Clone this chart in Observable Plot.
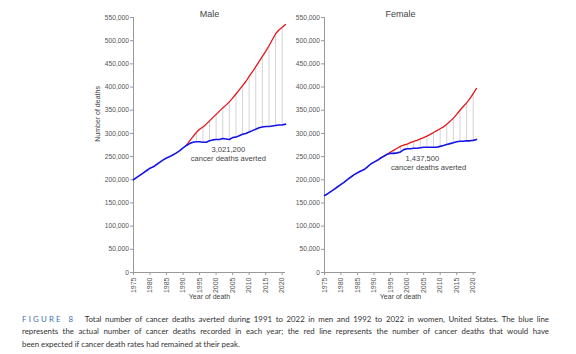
<!DOCTYPE html>
<html>
<head>
<meta charset="utf-8">
<script src="https://cdn.jsdelivr.net/npm/d3@7"></script>
<script src="https://cdn.jsdelivr.net/npm/@observablehq/plot@0.6"></script>
<style>
  html, body { margin: 0; padding: 0; background: #fff; }
  #wrap { position: relative; width: 576px; height: 354px; overflow: hidden; }
  .panel { position: absolute; top: 0; }
  #caption { position: absolute; left: 22px; top: 312.5px; width: 527px;
    font-family: Lato, "Noto Sans", sans-serif; font-size: 7.85px; line-height: 12.6px; color: #333; }
  #caption .j { text-align: justify; text-align-last: justify; white-space: nowrap; }
  #caption .fig { color: #3d6fb5; letter-spacing: 2.2px; margin-right: 6px; }
</style>
</head>
<body>
<div id="wrap">
  <div id="male" class="panel" style="left:0px"></div>
  <div id="female" class="panel" style="left:290px"></div>
  <div id="caption">
    <div class="j"><span class="fig">FIGURE 8</span> Total number of cancer deaths averted during 1991 to 2022 in men and 1992 to 2022 in women, United States. The blue line</div>
    <div class="j">represents the actual number of cancer deaths recorded in each year; the red line represents the number of cancer deaths that would have</div>
    <div>been expected if cancer death rates had remained at their peak.</div>
  </div>
</div>
<script>
// Years of death
const years = d3.range(1975, 2022);

// Male: actual deaths (blue), 1975-2021
const maleActual = [200000, 205000, 210000, 215000, 220000, 225000, 228000, 233000, 238000, 243000,
  247000, 250000, 254000, 258000, 263000, 269000, 274000, 278000, 281000, 282000,
  282000, 281000, 281000, 284000, 286000, 287000, 287000, 289000, 288000, 287000,
  291000, 292000, 295000, 298000, 300000, 303000, 306000, 309000, 312000, 314000,
  315000, 315000, 316000, 317000, 318000, 318000, 320000];
// Male: expected deaths at peak rates (red), 1991-2021
const maleExpectedYears = d3.range(1991, 2022);
const maleExpected = [274000, 284000, 293000, 302000, 309000, 314000, 320000, 327000, 334000, 341000,
  348000, 355000, 361000, 368000, 376000, 385000, 394000, 403000, 412000, 423000,
  433000, 444000, 455000, 466000, 477000, 489000, 502000, 515000, 523000, 529000, 535000];

// Female: actual deaths (blue), 1975-2021
const femaleActual = [166000, 170000, 175000, 180000, 185000, 190000, 195000, 201000, 206000, 211000,
  215000, 219000, 222000, 228000, 234000, 238000, 242000, 247000, 251000, 255000,
  257000, 257000, 258000, 260000, 265000, 267000, 267000, 268000, 268000, 269000,
  270000, 270000, 270000, 270000, 270000, 272000, 274000, 276000, 278000, 280000,
  282000, 283000, 283000, 284000, 284000, 285000, 287000];
// Female: expected deaths at peak rates (red), 1992-2021
const femaleExpectedYears = d3.range(1992, 2022);
const femaleExpected = [247000, 251000, 255000, 260000, 264000, 268000, 272000, 275000, 277000, 280000,
  283000, 285000, 288000, 291000, 294000, 298000, 302000, 306000, 310000, 314000,
  320000, 326000, 333000, 341000, 350000, 358000, 366000, 375000, 386000, 397000];

const panels = [
  {id: "male", title: "Male", actual: maleActual, expYears: maleExpectedYears, expected: maleExpected,
   averted: "3,021,200", note: "cancer deaths averted", gapYears: d3.range(1994, 2021, 2)},
  {id: "female", title: "Female", actual: femaleActual, expYears: femaleExpectedYears, expected: femaleExpected,
   averted: "1,437,500", note: "cancer deaths averted", gapYears: d3.range(1996, 2021, 2)}
];

const yTicks = d3.range(0, 550001, 50000);
const xTicks = d3.range(1975, 2021, 5);

const layout = {
  male:   {width: 290, marginLeft: 133, marginRight: 5, ylabel: true, labelX: [2003.7, 2003.7], labelY: [265000, 245000]},
  female: {width: 190, marginLeft: 34, marginRight: 4, ylabel: false, labelX: [2004.6, 2006.5], labelY: [246000, 226000]}
};

for (const p of panels) {
  const L = layout[p.id];
  const actual = years.map((y, i) => ({year: y, value: p.actual[i]}));
  const expected = p.expYears.map((y, i) => ({year: y, value: p.expected[i]}));
  const gaps = p.gapYears.map(y => ({
    year: y,
    lo: p.actual[years.indexOf(y)],
    hi: p.expected[p.expYears.indexOf(y)]
  }));
  const chart = Plot.plot({
    width: L.width,
    height: 305,
    marginTop: 17,
    marginBottom: 33,
    marginLeft: L.marginLeft,
    marginRight: L.marginRight,
    style: {fontFamily: "'Liberation Sans', Arial, sans-serif", color: "#444", background: "transparent"},
    x: {domain: [1975, 2021]},
    y: {domain: [0, 550000]},
    marks: [
      Plot.ruleX(gaps, {x: "year", y1: "lo", y2: "hi", stroke: "#d4d4d4", strokeWidth: 1}),
      Plot.ruleX([1975], {y1: 0, y2: 550000, stroke: "#999", strokeWidth: 1}),
      Plot.ruleY([0], {stroke: "#999", strokeWidth: 1}),
      Plot.axisY({ticks: yTicks, tickFormat: d3.format(","), tickSize: 3, tickPadding: 1.5,
        stroke: "#999", fill: "#555", fontSize: 6.7, label: null}),
      Plot.axisX({ticks: xTicks, tickFormat: d => String(d), tickSize: 3, tickPadding: 2,
        tickRotate: -90, stroke: "#999", fill: "#555", fontSize: 7, label: null}),
      Plot.line(expected, {x: "year", y: "value", stroke: "#e8141b", strokeWidth: 1.3}),
      Plot.line(actual, {x: "year", y: "value", stroke: "#1414e6", strokeWidth: 1.6}),
      Plot.text([p.averted], {x: L.labelX[0], y: L.labelY[0], text: d => d, fontSize: 7.6, fill: "#444"}),
      Plot.text([p.note], {x: L.labelX[1], y: L.labelY[1], text: d => d, fontSize: 7.6, fill: "#444"}),
      Plot.text([p.title], {frameAnchor: "top", dy: -7, text: d => d, fontSize: 9, fill: "#444"}),
      Plot.text(["Year of death"], {frameAnchor: "bottom", dy: 26, text: d => d, fontSize: 7, fill: "#444"}),
      ...(L.ylabel ? [Plot.text([{label: "Number of deaths", v: 282000}], {y: "v", frameAnchor: "left", dx: -36, rotate: -90, text: "label", fontSize: 7, fill: "#444"})] : [])
    ]
  });
  document.getElementById(p.id).appendChild(chart);
}
</script>
</body>
</html>
